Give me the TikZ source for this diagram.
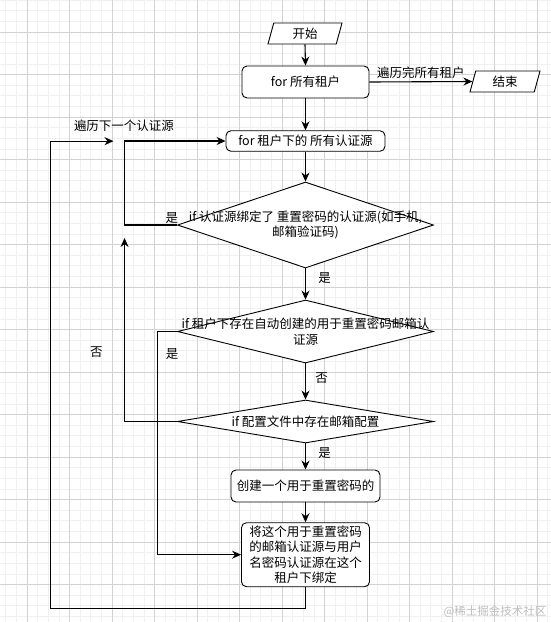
\documentclass[tikz,border=0pt]{standalone}
\usepackage{fontspec}
\setmainfont{Noto Sans CJK SC}
\usetikzlibrary{shapes.geometric,arrows.meta}
\definecolor{gridmajor}{RGB}{210,210,210}
\definecolor{gridminor}{RGB}{240,240,240}
\definecolor{markgray}{RGB}{190,190,190}

\begin{document}
\begin{tikzpicture}[x=1pt,y=-1pt,
		every node/.style={font=\fontsize{12.5}{15.6}\selectfont},
		io/.style={draw, fill=white, line width=0.9pt, trapezium, trapezium left angle=67, trapezium right angle=113, trapezium stretches body, minimum height=21pt, inner sep=1pt},
		proc/.style={draw, fill=white, line width=0.9pt, rounded corners=5pt, inner sep=0pt, align=center},
		decide/.style={draw, fill=white, line width=0.9pt, diamond, inner sep=0pt},
		flow/.style={line width=1.1pt, ->},
		>={Stealth[length=9pt,width=8pt]}]
		
		\useasboundingbox (0,0) rectangle (551,622);
		\fill[white] (0,0) rectangle (551,622);
		
		%Grid
		\foreach \i in {0,...,51}
		\draw[gridminor, line width=0.6pt] (5.75+10.625*\i,0) -- ++(0,622);
		\foreach \i in {0,...,58}
		\draw[gridminor, line width=0.6pt] (0,0.125+10.625*\i) -- ++(551,0);
		\foreach \i in {0,...,12}
		\draw[gridmajor, line width=0.8pt] (27+42.5*\i,0) -- ++(0,622);
		\foreach \i in {0,...,13}
		\draw[gridmajor, line width=0.8pt] (0,32+42.5*\i) -- ++(551,0);
		
		%Steps
		\node[io, minimum width=74pt] (start) at (305,33.5) {开始};
		\node[proc, minimum width=127pt, minimum height=32pt] (tenants) at (305.5,82) {for 所有租户};
		\node[io, minimum width=70pt] (stop) at (505,81.5) {结束};
		\node[proc, minimum width=159pt, minimum height=20.5pt] (sources) at (305.5,141) {for 租户下的 所有认证源};
		
		\node[decide, minimum width=256pt, minimum height=86pt] (bound) at (305.5,225) {};
		\node[align=center] (bound-txt) at (bound) {if 认证源绑定了 重置密码的认证源(如手机,\\邮箱验证码)};
		
		\node[decide, minimum width=256pt, minimum height=63pt] (mailsrc) at (305.5,331.5) {};
		\node[align=center] (mailsrc-txt) at (mailsrc) {if 租户下存在自动创建的用于重置密码邮箱认\\证源};
		
		\node[decide, minimum width=256pt, minimum height=43pt] (config) at (305.5,421.5) {};
		\node (config-txt) at (config) {if 配置文件中存在邮箱配置};
		
		\node[proc, minimum width=149pt, minimum height=32pt] (create) at (305.5,486) {创建一个用于重置密码的};
		\node[proc, minimum width=128pt, minimum height=64pt] (bind) at (305.5,554.7) {将这个用于重置密码\\的邮箱认证源与用户\\名密码认证源在这个\\租户下绑定};
		
		%Connectors
		\draw[flow] (start.south) -- (tenants.north);
		\draw[flow] (tenants.east) -- node[above, inner sep=3pt] {遍历完所有租户} (stop.west);
		\draw[flow] (tenants.south) -- (sources.north);
		\draw[flow] (sources.south) -- (bound.north);
		\draw[flow] (bound.west) -- node[above, pos=0.1, inner sep=1pt] {是} ++(-53,0) |- (sources.west);
		\draw[flow] (bound.south) -- node[right, pos=0.3, xshift=9pt] {是} (mailsrc.north);
		\draw[flow] (mailsrc.south) -- node[right, pos=0.4, xshift=6pt] {否} (config.north);
		\draw[flow] (mailsrc.west) -- ++(-20,0) |- node[right, pos=0.05, xshift=5pt] {是} (bind.west);
		\draw[flow] (config.west) -- ++(-52.5,0) -- node[left, pos=0.38, xshift=-18pt] {否} ++(0,-183.5);
		\draw[flow] (config.south) -- node[right, pos=0.35, xshift=9pt] {是} (create.north);
		\draw[flow] (create.south) -- (bind.north);
		\draw[flow] (bind.south) -- ++(0,21) -| ++(-255,-467) -- node[above=6pt, pos=1, xshift=10.5pt] {遍历下一个认证源} ++(63,0);
		
		%Watermark
		\node[text=markgray, font=\fontsize{11.5}{13}\selectfont] (mark) at (495,612) {@稀土掘金技术社区};
		
	\end{tikzpicture}
\end{document}
